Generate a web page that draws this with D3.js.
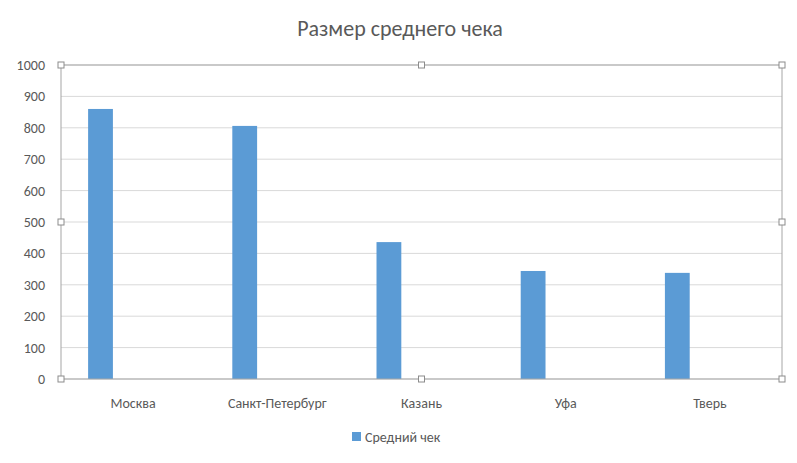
<!DOCTYPE html>
<html><head><meta charset="utf-8">
<script src="https://cdn.jsdelivr.net/npm/d3@7"></script>
<style>body{margin:0;background:#fff}</style></head>
<body><svg id="c" width="797" height="463"></svg>
<script>
const categories=["Москва","Санкт-Петербург","Казань","Уфа","Тверь"];
const values=[860,806,436,344,338];
const yTicks=[0,100,200,300,400,500,600,700,800,900,1000];
const seriesName="Средний чек";
const title="Размер среднего чека";

const svg=d3.select("#c"), font="Calibri, 'Open Sans', 'Liberation Sans', sans-serif";
const L=61,R=782,T=65,B=379;
const x=d3.scaleBand().domain(categories).range([L,R]);
const y=d3.scaleLinear().domain([0,1000]).range([B,T]);
svg.append("text").attr("x",400).attr("y",36).attr("text-anchor","middle").attr("font-family",font).attr("font-size",22).attr("fill","#595959").text(title);
svg.append("g").selectAll("line").data(yTicks).join("line").attr("x1",L).attr("x2",R).attr("y1",d=>y(d)).attr("y2",d=>y(d)).attr("stroke","#d9d9d9");
svg.append("g").selectAll("text").data(yTicks).join("text").attr("x",45).attr("y",d=>y(d)+5).attr("text-anchor","end").attr("font-family",font).attr("font-size",14).attr("fill","#595959").text(d=>d);
svg.append("g").selectAll("rect").data(values).join("rect").attr("x",(d,i)=>x(categories[i])+x.bandwidth()*0.188).attr("width",x.bandwidth()*0.172).attr("y",d=>y(d)).attr("height",d=>B-y(d)).attr("fill","#5b9bd5");
svg.append("g").selectAll("text").data(categories).join("text").attr("x",d=>x(d)+x.bandwidth()/2).attr("y",408).attr("text-anchor","middle").attr("font-family",font).attr("font-size",14).attr("fill","#595959").text(d=>d);
svg.append("rect").attr("x",L).attr("y",T).attr("width",R-L).attr("height",B-T).attr("fill","none").attr("stroke","#a6a6a6");
const hp=[[L,T],[(L+R)/2,T],[R,T],[L,(T+B)/2],[R,(T+B)/2],[L,B],[(L+R)/2,B],[R,B]];
svg.append("g").selectAll("rect").data(hp).join("rect").attr("x",d=>d[0]-3).attr("y",d=>d[1]-3).attr("width",6).attr("height",6).attr("fill","#fff").attr("stroke","#8c8c8c");
svg.append("rect").attr("x",352).attr("y",432).attr("width",9).attr("height",9).attr("fill","#5b9bd5");
svg.append("text").attr("x",365).attr("y",442).attr("font-family",font).attr("font-size",14).attr("fill","#595959").text(seriesName);
</script></body></html>
